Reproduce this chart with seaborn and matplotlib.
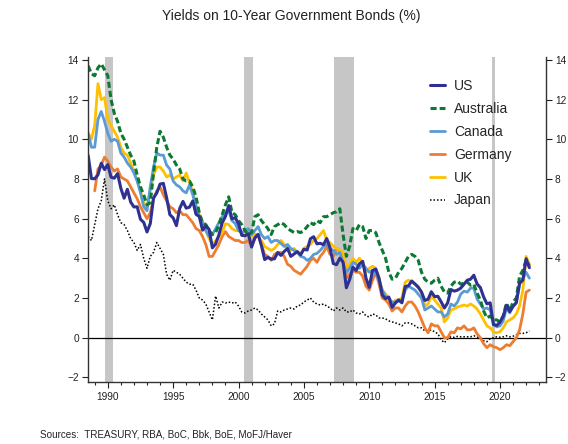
import numpy as np
import matplotlib
matplotlib.use("Agg")
import matplotlib.pyplot as plt
from matplotlib.ticker import MultipleLocator
import seaborn as sns

# quarterly points, in the chart's own axis years
years = np.arange(1988.5, 2022.3, 0.25)

us = [9.18, 8.02,
      8.01, 8.21, 8.79, 8.47,
      8.72, 8.09, 8.04, 8.27,
      7.53, 7.03, 7.48, 6.84,
      6.59, 6.60, 5.97, 5.81,
      5.33, 5.75, 7.04, 7.30,
      7.74, 7.78, 7.06, 6.20,
      6.04, 5.65, 6.51, 6.87,
      6.53, 6.58, 6.89, 6.22,
      6.11, 5.42, 5.64, 5.46,
      4.53, 4.72, 5.18, 5.79,
      6.11, 6.66, 5.99, 6.05,
      5.74, 5.16, 5.14, 5.24,
      4.57, 5.04, 5.21, 4.65,
      3.94, 4.05, 3.96, 3.98,
      4.29, 4.15, 4.35, 4.50,
      4.10, 4.22, 4.34, 4.18,
      4.46, 4.42, 4.99, 5.09,
      4.73, 4.76, 4.69, 5.00,
      4.53, 3.74, 3.68, 4.01,
      3.81, 2.52, 2.93, 3.56,
      3.39, 3.73, 3.85, 3.01,
      2.54, 3.39, 3.46, 3.00,
      2.15, 1.97, 2.05, 1.53,
      1.75, 1.91, 1.76, 2.58,
      2.62, 2.86, 2.71, 2.54,
      2.30, 1.88, 1.94, 2.32,
      2.07, 2.09, 1.81, 1.50,
      1.76, 2.43, 2.35, 2.40,
      2.50, 2.70, 2.90, 2.95,
      3.15, 2.71, 2.53, 2.06,
      1.71, 1.76, 0.66, 0.62,
      0.79, 1.08, 1.64, 1.32,
      1.58, 1.76, 2.75, 2.90,
      3.98, 3.53]

australia = [13.7, 13.3,
             13.2, 13.6, 13.8, 13.5,
             13.2, 12.0, 11.3, 10.9,
             10.3, 10.0, 9.6, 9.2,
             8.9, 8.2, 7.6, 7.2,
             6.7, 6.8, 8.3, 9.6,
             10.4, 10.1, 9.6, 9.2,
             9.0, 8.7, 8.5, 8.0,
             7.9, 7.9, 7.6, 7.1,
             6.3, 5.8, 5.7, 5.4,
             5.2, 5.3, 5.7, 6.2,
             6.7, 7.1, 6.3, 6.2,
             5.9, 5.7, 5.4, 5.2,
             5.3, 6.1, 6.2, 5.9,
             5.7, 5.5, 5.2, 5.6,
             5.7, 5.8, 5.7, 5.5,
             5.4, 5.3, 5.35, 5.3,
             5.4, 5.6, 5.8, 5.7,
             5.9, 5.8, 6.1, 6.1,
             6.2, 6.3, 6.35, 6.5,
             5.2, 4.1, 4.6, 5.5,
             5.4, 5.7, 5.6, 5.0,
             5.4, 5.4, 5.3, 4.8,
             4.4, 4.0, 3.3, 2.95,
             3.0, 3.3, 3.5, 3.8,
             4.1, 4.2, 4.1, 3.9,
             3.3, 2.95, 2.8, 2.75,
             2.9, 3.0, 2.6, 2.3,
             2.25, 2.6, 2.8, 2.85,
             2.7, 2.75, 2.8, 2.65,
             2.7, 2.25, 1.9, 1.35,
             1.0, 1.1, 0.9, 0.9,
             0.8, 1.1, 1.75, 1.35,
             1.8, 2.0, 3.1, 3.4,
             3.9, 3.6]

canada = [10.3, 9.6,
          9.6, 11.0, 11.4, 10.9,
          10.3, 9.9, 10.0, 9.9,
          9.3, 9.1, 8.8, 8.6,
          8.3, 7.9, 7.3, 6.6,
          6.4, 7.6, 8.6, 9.3,
          9.2, 9.2, 8.7, 8.5,
          7.9, 7.7, 7.6, 7.4,
          7.3, 7.7, 7.2, 6.6,
          6.1, 5.8, 5.4, 5.1,
          5.2, 5.5, 5.8, 6.1,
          6.3, 6.4, 5.9, 5.75,
          5.4, 5.3, 5.4, 5.5,
          5.2, 5.4, 5.6, 5.2,
          5.0, 5.1, 4.8, 4.9,
          4.9, 4.75, 4.6, 4.7,
          4.5, 4.4, 4.3, 4.1,
          4.05, 3.9, 4.0, 4.2,
          4.25, 4.4, 4.6, 4.7,
          4.5, 4.4, 4.2, 4.3,
          3.75, 3.3, 3.5, 3.8,
          3.7, 3.5, 3.7, 3.5,
          3.3, 3.4, 3.2, 2.9,
          2.4, 2.1, 2.0, 1.8,
          1.8, 1.85, 1.8, 2.4,
          2.6, 2.5, 2.4, 2.2,
          2.0, 1.4, 1.5, 1.6,
          1.45, 1.3, 1.3, 1.05,
          1.2, 1.7, 1.6, 1.8,
          2.2, 2.35, 2.3, 2.5,
          2.5, 1.95, 1.7, 1.45,
          1.5, 1.4, 0.75, 0.55,
          0.6, 0.85, 1.5, 1.25,
          1.6, 1.8, 2.7, 3.0,
          3.3, 3.0]

germany = [np.nan, np.nan,
           7.4, 8.5, 8.7, 9.1,
           8.9, 8.6, 8.4, 8.5,
           8.1, 8.0, 7.9, 7.6,
           7.3, 7.0, 6.6, 6.3,
           6.0, 6.3, 7.0, 7.4,
           7.6, 7.2, 6.9, 6.6,
           6.5, 6.3, 6.4, 6.2,
           6.2, 6.0, 5.8, 5.5,
           5.4, 5.1, 4.7, 4.1,
           4.1, 4.4, 4.7, 5.1,
           5.35, 5.1, 5.0, 4.9,
           4.9, 4.8, 4.8, 4.9,
           4.6, 5.0, 5.2, 4.7,
           4.2, 4.1, 3.9, 4.2,
           4.3, 4.3, 4.1, 3.7,
           3.6, 3.4, 3.3, 3.2,
           3.4, 3.6, 3.9, 4.0,
           3.8, 4.1, 4.3, 4.6,
           4.2, 4.1, 4.5, 4.4,
           3.9, 3.0, 3.2, 3.4,
           3.3, 3.3, 3.1, 2.6,
           2.4, 2.9, 3.3, 2.7,
           2.0, 1.9, 1.7, 1.35,
           1.5, 1.5, 1.3, 1.6,
           1.8, 1.8, 1.6, 1.3,
           0.9, 0.5, 0.25, 0.7,
           0.6, 0.6, 0.3, 0.0,
           0.0, 0.3, 0.25, 0.5,
           0.45, 0.6, 0.4, 0.4,
           0.5, 0.2, 0.0, -0.3,
           -0.5, -0.35, -0.45, -0.5,
           -0.6, -0.5, -0.35, -0.4,
           -0.2, 0.0, 0.4, 1.2,
           2.3, 2.4]

uk = [10.3, 10.0,
      10.7, 12.8, 12.0, 12.1,
      11.0, 10.7, 10.4, 10.1,
      9.6, 9.3, 9.2, 8.8,
      8.4, 7.9, 7.4, 6.8,
      6.6, 7.4, 8.2, 8.6,
      8.6, 8.4, 8.1, 8.2,
      8.0, 8.1, 8.2, 7.9,
      8.3, 7.8, 7.4, 6.7,
      6.2, 5.8, 5.4, 5.0,
      4.7, 4.9, 5.1, 5.3,
      5.75, 5.7, 5.5, 5.4,
      5.4, 5.3, 5.2, 5.1,
      5.1, 5.25, 5.1, 4.9,
      4.6, 4.5, 4.4, 4.5,
      4.7, 4.9, 4.7, 4.5,
      4.4, 4.5, 4.3, 4.2,
      4.5, 4.6, 4.7, 4.9,
      5.0, 5.2, 5.4, 4.9,
      4.8, 4.6, 4.5, 4.4,
      4.3, 3.5, 3.7, 4.0,
      3.8, 4.0, 3.8, 3.3,
      3.5, 3.6, 3.5, 3.0,
      2.4, 2.2, 2.0, 1.6,
      1.9, 1.9, 2.0, 2.8,
      2.9, 2.8, 2.7, 2.6,
      2.3, 1.6, 1.7, 2.1,
      1.9, 1.7, 1.5, 0.8,
      1.0, 1.4, 1.45, 1.55,
      1.6, 1.65, 1.6, 1.7,
      1.6, 1.45, 1.2, 0.9,
      0.6, 0.5, 0.3, 0.25,
      0.3, 0.5, 0.8, 0.9,
      1.0, 1.2, 1.6, 2.4,
      4.1, 3.7]

japan = [5.1, 4.9,
         5.7, 6.5, 6.9, 8.0,
         6.9, 6.5, 6.7, 6.2,
         5.8, 5.7, 5.4, 5.0,
         4.8, 4.4, 4.7, 4.0,
         3.5, 4.1, 4.3, 4.8,
         4.5, 4.2, 3.2, 2.9,
         3.4, 3.3, 3.2, 3.0,
         2.8, 2.7, 2.7, 2.4,
         2.0, 1.9, 1.7, 1.3,
         0.9, 2.1, 1.5, 1.8,
         1.75, 1.8, 1.75, 1.8,
         1.6, 1.3, 1.25, 1.35,
         1.4, 1.5, 1.4, 1.2,
         1.05, 0.9, 0.6, 0.7,
         1.35, 1.3, 1.4, 1.45,
         1.5, 1.45, 1.6, 1.65,
         1.8, 1.9, 2.0, 1.8,
         1.7, 1.65, 1.7, 1.6,
         1.5, 1.35, 1.5, 1.4,
         1.5, 1.3, 1.3, 1.4,
         1.25, 1.2, 1.3, 1.1,
         1.05, 1.2, 1.15, 1.0,
         1.0, 0.95, 0.85, 0.8,
         0.75, 0.7, 0.6, 0.75,
         0.75, 0.7, 0.6, 0.5,
         0.5, 0.35, 0.35, 0.4,
         0.3, 0.2, -0.1, -0.25,
         -0.05, 0.05, 0.02, 0.07,
         0.05, 0.05, 0.05, 0.05,
         0.1, 0.05, -0.05, -0.15,
         -0.2, -0.05, 0.0, 0.05,
         0.03, 0.05, 0.1, 0.05,
         0.08, 0.15, 0.22, 0.22,
         0.25, 0.35]

recessions = [(1989.75, 1990.4), (2000.45, 2001.1), (2007.3, 2008.8), (2019.4, 2019.6)]

sns.set_style("white")
plt.rcParams["font.family"] = ["Liberation Sans", "DejaVu Sans"]

fig, ax = plt.subplots(figsize=(5.68, 4.44), dpi=100)
fig.subplots_adjust(left=0.155, right=0.961, top=0.871, bottom=0.140)

for start, end in recessions:
    ax.axvspan(start, end, color="#c6c6c6", lw=0, zorder=0)
ax.axhline(0, color="black", lw=0.9, zorder=1)

# drawn bottom to top, legend order fixed below
lines = [
    ("Japan", japan, "black", 1.1, (0, (1, 1.3))),
    ("Germany", germany, "#ed7d31", 2.0, "-"),
    ("UK", uk, "#ffc000", 2.0, "-"),
    ("Canada", canada, "#5b9bd5", 2.0, "-"),
    ("Australia", australia, "#0b7a35", 2.2, (0, (2, 1))),
    ("US", us, "#2e3192", 2.2, "-"),
]
for name, values, color, lw, ls in lines:
    sns.lineplot(x=years, y=values, ax=ax, color=color, lw=lw, linestyle=ls,
                 label=name, errorbar=None)

ax.set_xlim(1988.49, 2023.51)
ax.set_ylim(-2.22, 14.13)
ax.xaxis.set_major_locator(MultipleLocator(5))
ax.xaxis.set_minor_locator(MultipleLocator(1))
ax.yaxis.set_major_locator(MultipleLocator(2))
ax.set_xlabel("")
ax.set_ylabel("")

ax.tick_params(axis="y", which="both", left=True, right=True, labelleft=True, labelright=True,
               direction="out", length=4, width=0.8, pad=2.5, labelsize=7.3, colors="#222222")
ax.tick_params(axis="x", which="major", bottom=True, direction="out", length=4, width=0.8,
               pad=3, labelsize=7.3, colors="#222222")
ax.tick_params(axis="x", which="minor", bottom=True, direction="out", length=2.5, width=0.8)

for side in ["left", "right", "bottom"]:
    ax.spines[side].set_visible(True)
    ax.spines[side].set_color("#333333")
    ax.spines[side].set_linewidth(1.0)
ax.spines["top"].set_visible(False)

handles, labels = ax.get_legend_handles_labels()
order = ["US", "Australia", "Canada", "Germany", "UK", "Japan"]
lookup = dict(zip(labels, handles))
ax.legend([lookup[n] for n in order], order, loc="upper left",
          bbox_to_anchor=(0.757, 0.822), bbox_transform=fig.transFigure,
          frameon=False, fontsize=10, borderpad=0, borderaxespad=0,
          handlelength=1.08, handletextpad=0.65, labelspacing=0.64)

fig.text(0.513, 0.965, "Yields on 10-Year Government Bonds (%)", ha="center", va="center",
         fontsize=10, color="#222222")
fig.text(0.07, 0.022, "Sources:  TREASURY, RBA, BoC, Bbk, BoE, MoFJ/Haver", ha="left", va="center",
         fontsize=7.1, color="#222222")

fig.savefig("out.png", dpi=100)
